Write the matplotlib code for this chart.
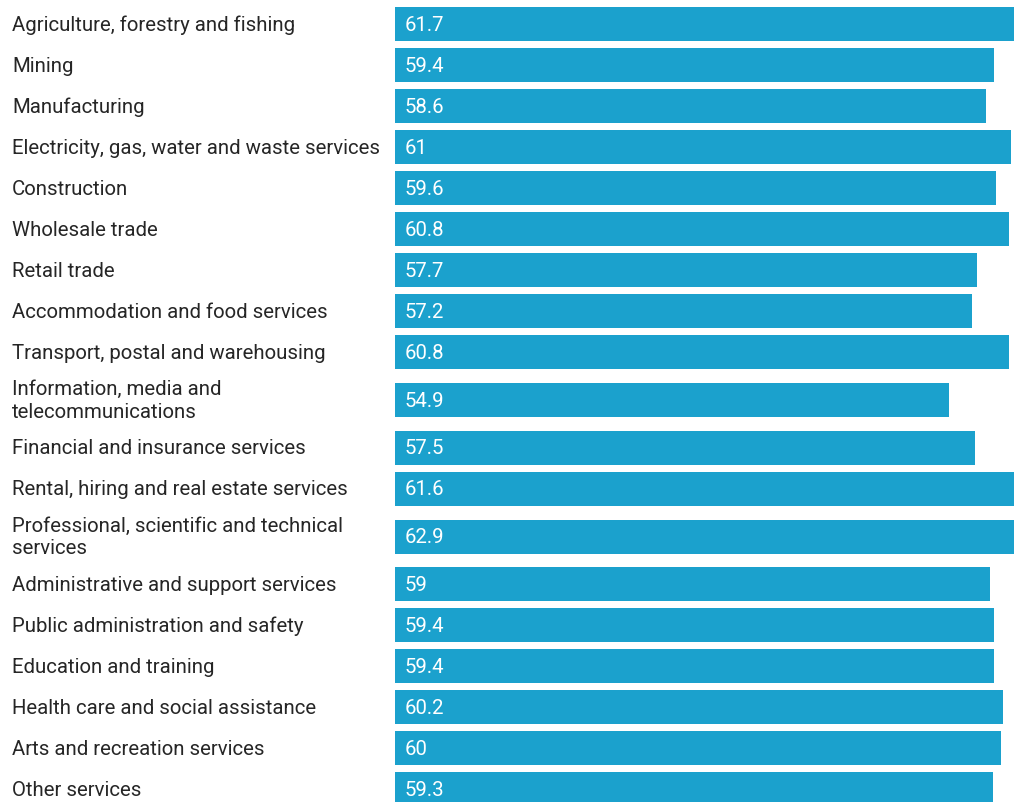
import matplotlib
matplotlib.use("Agg")
import matplotlib.pyplot as plt
from matplotlib.transforms import blended_transform_factory

categories = [
    "Agriculture, forestry and fishing",
    "Mining",
    "Manufacturing",
    "Electricity, gas, water and waste services",
    "Construction",
    "Wholesale trade",
    "Retail trade",
    "Accommodation and food services",
    "Transport, postal and warehousing",
    "Information, media and\ntelecommunications",
    "Financial and insurance services",
    "Rental, hiring and real estate services",
    "Professional, scientific and technical\nservices",
    "Administrative and support services",
    "Public administration and safety",
    "Education and training",
    "Health care and social assistance",
    "Arts and recreation services",
    "Other services",
]
values = [61.7, 59.4, 58.6, 61.0, 59.6, 60.8, 57.7, 57.2, 60.8, 54.9,
          57.5, 61.6, 62.9, 59.0, 59.4, 59.4, 60.2, 60.0, 59.3]
value_labels = ["61.7", "59.4", "58.6", "61", "59.6", "60.8", "57.7", "57.2",
                "60.8", "54.9", "57.5", "61.6", "62.9", "59", "59.4", "59.4",
                "60.2", "60", "59.3"]

W, H, DPI = 1014, 803, 100
BAR_COLOR = "#1ba1cd"
TEXT_COLOR = "#262626"
FONT = "Roboto"
FS = 14.7

# vertical layout in pixel units: taller rows for wrapped labels
ROW = 41.0
EXTRA = 13.5
BAR_H = 34.0
TOP = 4.8

centers = []
y = TOP
for lab in categories:
    h = ROW + EXTRA * lab.count("\n")
    centers.append(y + h / 2)
    y += h

fig = plt.figure(figsize=(W / DPI, H / DPI), dpi=DPI)
fig.patch.set_facecolor("white")
x0 = 394.5 / W
ax = fig.add_axes([x0, 0, 1 - x0, 1])
ax.set_ylim(H, 0)
ax.set_xlim(0, (W - 394.5) / 10.1)
ax.axis("off")

ax.barh(centers, values, height=BAR_H, color=BAR_COLOR, edgecolor="none")

trans_lab = blended_transform_factory(fig.transFigure, ax.transData)
for c, lab in zip(centers, categories):
    fig.text(12 / W, c, lab, transform=trans_lab, ha="left", va="center",
             fontsize=FS, family=FONT, color=TEXT_COLOR, linespacing=1.25)

for c, v in zip(centers, value_labels):
    ax.text(1.0, c, v, ha="left", va="center", fontsize=FS, family=FONT,
            color="white")

fig.savefig("out.png", dpi=DPI, facecolor="white")
